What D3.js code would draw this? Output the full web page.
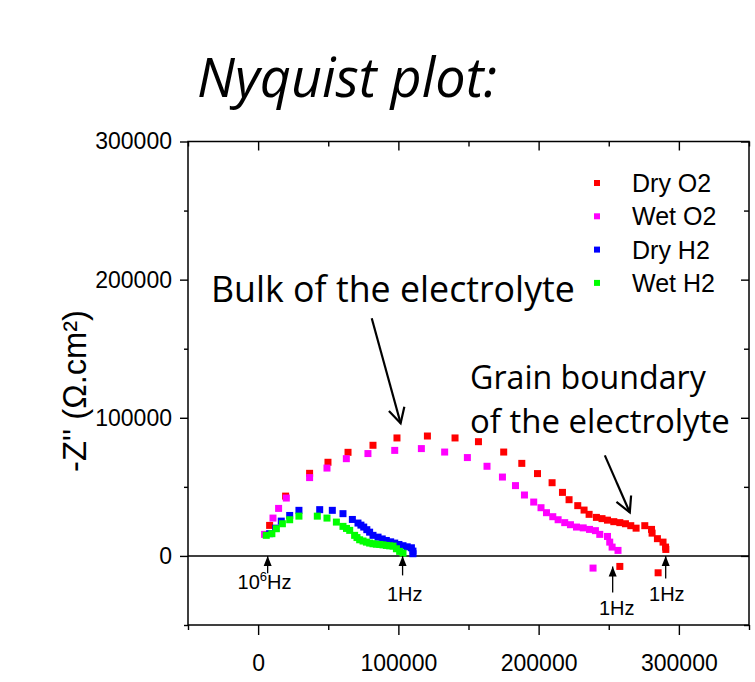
<!DOCTYPE html>
<html>
<head>
<meta charset="utf-8">
<script src="https://cdn.jsdelivr.net/npm/d3@7"></script>
<style>
  body { margin: 0; background: #fff; }
  svg { display: block; }
</style>
</head>
<body>
<svg id="chart" width="755" height="682"></svg>
<script>
// Z' (x) and -Z'' (y) in ohm.cm2
const dryO2 = [
  [8200, 22100], [19600, 43300], [36700, 59800], [49800, 67800], [64100, 75000],
  [81900, 80100], [99000, 85400], [120700, 86800], [140400, 85400], [157100, 82700],
  [175100, 75200], [188000, 67000], [199200, 59600], [209600, 53000], [217000, 46000],
  [221700, 40700], [227900, 36400], [232400, 33200], [236000, 30100], [241200, 27900],
  [245200, 27000], [249100, 25900], [253600, 24800], [257900, 24100], [261900, 23300],
  [265700, 21900], [269500, 20100], [275700, 21900], [280500, 19200], [280900, 16500],
  [284700, 12500], [288700, 10000], [290500, 6400], [290700, 4700],
  [257900, -7600], [285200, -12200]
];
const wetO2 = [
  [4600, 15600], [10600, 27400], [14600, 34400], [20100, 41900], [36700, 56700],
  [49100, 63600], [62900, 70400], [78300, 74100], [97400, 76400], [116400, 77700],
  [133000, 75200], [149200, 71200], [163200, 64900], [174200, 57100], [183500, 50900],
  [189900, 44100], [196500, 39000], [201700, 34900], [205600, 31300], [210100, 28400],
  [213900, 26200], [218600, 24100], [222700, 22600], [227000, 20900], [231800, 20300],
  [236300, 19200], [240500, 18300], [243600, 15600], [249100, 14100], [250700, 10000],
  [252400, 6400], [256600, 4000],
  [238800, -8800]
];
const dryH2 = [
  [8200, 16100], [12500, 20100], [16500, 25200], [22500, 29300], [29100, 33000],
  [43900, 33500], [52900, 33000], [60500, 30600], [67200, 26400], [71200, 23800],
  [73300, 22300], [75300, 20900], [77500, 19000], [79500, 17200], [81900, 14900],
  [85500, 13600], [88500, 12300], [91400, 11200], [94500, 10200], [97400, 9300],
  [100400, 8300], [103300, 7400], [106300, 6600], [109300, 5900], [110400, 3500],
  [110400, 1600]
];
const wetH2 = [
  [5800, 14900], [9800, 16100], [13000, 19700], [17300, 23300], [22500, 26200],
  [29100, 28800], [42200, 28800], [49100, 27400], [55800, 24500], [60500, 21400],
  [63000, 19900], [65300, 18500], [68800, 14900], [70500, 13300], [72400, 11700],
  [74800, 10800], [77200, 10000], [79500, 9300], [81900, 8800], [84300, 8500],
  [86700, 8300], [89000, 8000], [91400, 7600], [93800, 7300], [96200, 7100],
  [98600, 5200], [100900, 3300], [103300, 2000]
];

const seriesNames = ["Dry O2", "Wet O2", "Dry H2", "Wet H2"];
const seriesColors = ["#ff0000", "#ff00ff", "#0000ff", "#00ff00"];
const seriesData = [dryO2, wetO2, dryH2, wetH2];

const xMajor = [0, 100000, 200000, 300000];
const xMinor = [-50000, 50000, 150000, 250000, 350000];
const yMajor = [0, 100000, 200000, 300000];
const yMinor = [-50000, 50000, 150000, 250000];

// frequency markers: arrow from tail to tip, label below
const freqX = [6800, 103000, 252800, 290600];
const freqTip = [0, 0, -7600, 0];
const freqTail = [-12500, -14100, -26400, -16300];
const freqLabelX = [4600, 104500, 255700, 291400];
const freqLabelY = [-23800, -32800, -42800, -32800];
const freqLabels = ["10^6Hz", "1Hz", "1Hz", "1Hz"];

const svg = d3.select("#chart");
const pLeft = 188, pRight = 749, pTop = 141.5, pBottom = 625;

const x = d3.scaleLinear().domain([-50000, 350000]).range([pLeft, pRight]);
const y = d3.scaleLinear().domain([-50000, 300000]).range([pBottom, pTop]);

const axisFont = "'Liberation Sans', Arial, sans-serif";
const noteFont = "'Open Sans', sans-serif";

function styleAxis(g) {
  g.select(".domain").remove();
  g.selectAll(".tick line").attr("stroke", "#000").attr("stroke-width", 1.4);
  g.selectAll(".tick text").attr("font-family", axisFont).attr("font-size", 23).attr("fill", "#000");
}

// bottom axis, ticks outward
svg.append("g").attr("transform", `translate(0,${pBottom})`)
  .call(d3.axisBottom(x).tickValues(xMajor).tickSize(10).tickPadding(20).tickFormat(d3.format("d")))
  .call(styleAxis);
svg.append("g").attr("transform", `translate(0,${pBottom})`)
  .call(d3.axisBottom(x).tickValues(xMinor).tickSize(5).tickFormat(""))
  .call(styleAxis);
// top axis, ticks inward
svg.append("g").attr("transform", `translate(0,${pTop})`)
  .call(d3.axisTop(x).tickValues(xMajor).tickSize(-9).tickFormat(""))
  .call(styleAxis);
svg.append("g").attr("transform", `translate(0,${pTop})`)
  .call(d3.axisTop(x).tickValues(xMinor).tickSize(-5).tickFormat(""))
  .call(styleAxis);
// left axis, ticks outward
svg.append("g").attr("transform", `translate(${pLeft},0)`)
  .call(d3.axisLeft(y).tickValues(yMajor).tickSize(8).tickPadding(8).tickFormat(d3.format("d")))
  .call(styleAxis);
svg.append("g").attr("transform", `translate(${pLeft},0)`)
  .call(d3.axisLeft(y).tickValues(yMinor).tickSize(4).tickFormat(""))
  .call(styleAxis);
// right axis, ticks inward
svg.append("g").attr("transform", `translate(${pRight},0)`)
  .call(d3.axisRight(y).tickValues(yMajor).tickSize(-8).tickFormat(""))
  .call(styleAxis);
svg.append("g").attr("transform", `translate(${pRight},0)`)
  .call(d3.axisRight(y).tickValues(yMinor).tickSize(-5).tickFormat(""))
  .call(styleAxis);

// frame
svg.append("rect")
  .attr("x", pLeft).attr("y", pTop)
  .attr("width", pRight - pLeft).attr("height", pBottom - pTop)
  .attr("fill", "none").attr("stroke", "#000").attr("stroke-width", 1.5);

// zero line
svg.append("line")
  .attr("x1", x(-50000)).attr("x2", x(350000))
  .attr("y1", y(0)).attr("y2", y(0))
  .attr("stroke", "#000").attr("stroke-width", 1.5);

function fitWidth(sel, w) {
  const len = sel.node().getComputedTextLength();
  sel.attr("font-size", parseFloat(sel.attr("font-size")) * w / len);
}

// y title
const yTitle = svg.append("text")
  .attr("transform", "translate(86,391) rotate(-90)")
  .attr("text-anchor", "middle")
  .attr("font-family", axisFont).attr("font-size", 30)
  .text("-Z'' (\u03A9.cm\u00B2)");
fitWidth(yTitle, 162);

// points
const sz = 7;
seriesData.forEach((data, i) => {
  svg.append("g").selectAll("rect").data(data).join("rect")
    .attr("x", d => x(d[0]) - sz / 2)
    .attr("y", d => y(d[1]) - sz / 2)
    .attr("width", sz).attr("height", sz)
    .attr("fill", seriesColors[i]);
});

// legend
const legend = svg.append("g");
seriesNames.forEach((name, i) => {
  const ly = 183 + i * 33.3;
  legend.append("rect")
    .attr("x", 597 - 3).attr("y", ly - 3).attr("width", 6).attr("height", 6)
    .attr("fill", seriesColors[i]);
  legend.append("text")
    .attr("x", 632).attr("y", ly + 9)
    .attr("font-family", axisFont).attr("font-size", 25)
    .text(name);
});

// frequency markers
const defs = svg.append("defs");
defs.append("marker")
  .attr("id", "tri").attr("markerUnits", "userSpaceOnUse")
  .attr("viewBox", "-12 -6 14 12").attr("refX", 0).attr("refY", 0)
  .attr("markerWidth", 14).attr("markerHeight", 12).attr("orient", "auto")
  .append("path").attr("d", "M0,0 L-10,-4 L-10,4 Z").attr("fill", "#000");
defs.append("marker")
  .attr("id", "vee").attr("markerUnits", "userSpaceOnUse")
  .attr("viewBox", "-20 -12 24 24").attr("refX", 0).attr("refY", 0)
  .attr("markerWidth", 24).attr("markerHeight", 24).attr("orient", "auto")
  .append("path").attr("d", "M-15,-8 L0,0 L-15,8")
  .attr("fill", "none").attr("stroke", "#000").attr("stroke-width", 2.2);

freqX.forEach((fx, i) => {
  svg.append("line")
    .attr("x1", x(fx)).attr("x2", x(fx))
    .attr("y1", y(freqTail[i])).attr("y2", y(freqTip[i]))
    .attr("stroke", "#000").attr("stroke-width", 1.3)
    .attr("marker-end", "url(#tri)");
  const t = svg.append("text")
    .attr("x", x(freqLabelX[i])).attr("y", y(freqLabelY[i]))
    .attr("text-anchor", "middle")
    .attr("font-family", axisFont).attr("font-size", 20);
  if (freqLabels[i].includes("^")) {
    const parts = freqLabels[i].split("^");
    t.append("tspan").text(parts[0]);
    t.append("tspan").attr("dy", -8).attr("font-size", 13).text(parts[1][0]);
    t.append("tspan").attr("dy", 8).text(parts[1].slice(1));
  } else {
    t.text(freqLabels[i]);
  }
});

// annotations
const title = svg.append("text")
  .attr("x", 197).attr("y", 97)
  .attr("font-family", noteFont).attr("font-style", "italic").attr("font-size", 48)
  .text("Nyquist plot:");
fitWidth(title, 300);

const bulk = svg.append("text")
  .attr("x", 211).attr("y", 302)
  .attr("font-family", noteFont).attr("font-size", 28)
  .text("Bulk of the electrolyte");
fitWidth(bulk, 364);

const gb1 = svg.append("text")
  .attr("x", 470).attr("y", 389)
  .attr("font-family", noteFont).attr("font-size", 28)
  .text("Grain boundary");
fitWidth(gb1, 236);

const gb2 = svg.append("text")
  .attr("x", 470).attr("y", 433)
  .attr("font-family", noteFont).attr("font-size", 28)
  .text("of the electrolyte");
fitWidth(gb2, 260);

// annotation arrows (data space)
const arrowFrom = [[81000, 172000], [247200, 72800]];
const arrowTo = [[101600, 96000], [265000, 31500]];
arrowFrom.forEach((a, i) => {
  svg.append("line")
    .attr("x1", x(a[0])).attr("y1", y(a[1]))
    .attr("x2", x(arrowTo[i][0])).attr("y2", y(arrowTo[i][1]))
    .attr("stroke", "#000").attr("stroke-width", 2.2)
    .attr("marker-end", "url(#vee)");
});
</script>
</body>
</html>
